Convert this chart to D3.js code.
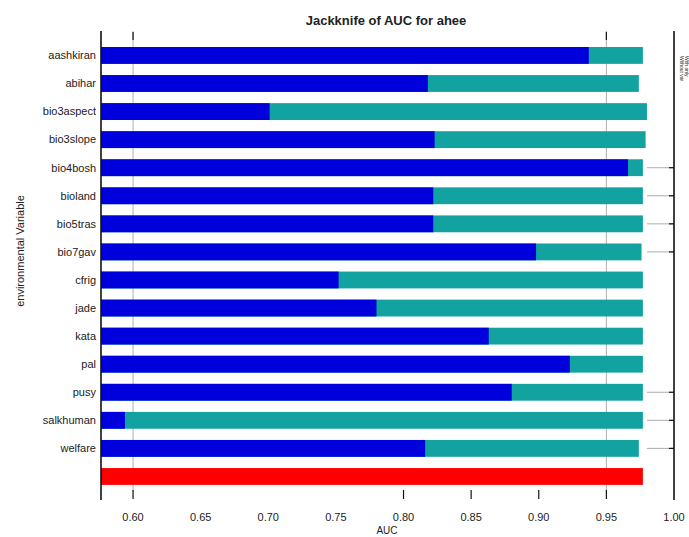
<!DOCTYPE html>
<html>
<head>
<meta charset="utf-8">
<script src="https://cdn.jsdelivr.net/npm/d3@7"></script>
<style>
  body { margin: 0; background: #fff; }
  text { font-family: "Liberation Sans", Arial, sans-serif; fill: #222; }
</style>
</head>
<body>
<svg id="chart1"></svg>
<script>
let w = 689;
let h = 537;
let svg;
let xScale, yScale;

// variables, top to bottom
let variables = ['aashkiran', 'abihar', 'bio3aspect', 'bio3slope', 'bio4bosh', 'bioland', 'bio5tras',
  'bio7gav', 'cfrig', 'jade', 'kata', 'pal', 'pusy', 'salkhuman', 'welfare'];
// AUC without the variable (teal)
let withoutVar = [0.977, 0.974, 0.980, 0.979, 0.977, 0.977, 0.977,
  0.976, 0.977, 0.977, 0.977, 0.977, 0.977, 0.977, 0.974];
// AUC with only the variable (blue)
let onlyVar = [0.937, 0.818, 0.701, 0.823, 0.966, 0.822, 0.822,
  0.898, 0.752, 0.780, 0.863, 0.923, 0.880, 0.594, 0.816];
// AUC with all variables (red)
let allVars = 0.977;

let tickValues = [0.60, 0.65, 0.70, 0.75, 0.80, 0.85, 0.90, 0.95, 1.00];
let tickMarks = [0.60, 0.80, 0.85, 0.90, 0.95];
let gridValues = [0.60, 0.95];
let rightTickRows = ['bio4bosh', 'bioland', 'bio5tras', 'bio7gav', 'pusy', 'salkhuman', 'welfare'];
let legendLabels = ['Without var', 'With only'];

function initGraph() {
  let rows = variables.concat(['all']);

  svg = d3.select('#chart1')
    .attr('width', w)
    .attr('height', h);

  xScale = d3.scaleLinear()
    .domain([0.5763, 1.0])
    .range([101, 674]);

  yScale = d3.scaleBand()
    .domain(rows)
    .range([41.4, 490.5])
    .paddingInner(0.4)
    .paddingOuter(0.2);

  // grid lines
  svg.selectAll('.grid')
    .data(gridValues)
    .enter()
    .append('line')
    .attr('x1', d => xScale(d))
    .attr('x2', d => xScale(d))
    .attr('y1', 31)
    .attr('y2', 492)
    .attr('stroke', '#999')
    .attr('stroke-width', 0.8);

  svg.selectAll('.toptick')
    .data(gridValues)
    .enter()
    .append('line')
    .attr('x1', d => xScale(d))
    .attr('x2', d => xScale(d))
    .attr('y1', 32)
    .attr('y2', 40)
    .attr('stroke', '#111')
    .attr('stroke-width', 1.2);

  // faint lines to the right axis
  svg.selectAll('.rline')
    .data(rightTickRows)
    .enter()
    .append('line')
    .attr('x1', xScale(0.98))
    .attr('x2', xScale(1.0))
    .attr('y1', d => yScale(d) + yScale.bandwidth() / 2)
    .attr('y2', d => yScale(d) + yScale.bandwidth() / 2)
    .attr('stroke', '#888')
    .attr('stroke-width', 0.7);

  svg.selectAll('.rtick')
    .data(rightTickRows)
    .enter()
    .append('line')
    .attr('x1', xScale(1.0) - 5)
    .attr('x2', xScale(1.0))
    .attr('y1', d => yScale(d) + yScale.bandwidth() / 2)
    .attr('y2', d => yScale(d) + yScale.bandwidth() / 2)
    .attr('stroke', '#111')
    .attr('stroke-width', 1.2);

  // teal bars (without variable)
  svg.selectAll('.without')
    .data(variables)
    .enter()
    .append('rect')
    .attr('x', xScale.range()[0])
    .attr('y', d => yScale(d))
    .attr('width', (d, i) => xScale(withoutVar[i]) - xScale.range()[0])
    .attr('height', yScale.bandwidth())
    .attr('fill', '#12a3a1');

  // blue bars (only variable)
  svg.selectAll('.only')
    .data(variables)
    .enter()
    .append('rect')
    .attr('x', xScale.range()[0])
    .attr('y', d => yScale(d))
    .attr('width', (d, i) => xScale(onlyVar[i]) - xScale.range()[0])
    .attr('height', yScale.bandwidth())
    .attr('fill', '#0000dd');

  // red bar (all variables)
  svg.append('rect')
    .attr('x', xScale.range()[0])
    .attr('y', yScale('all'))
    .attr('width', xScale(allVars) - xScale.range()[0])
    .attr('height', yScale.bandwidth())
    .attr('fill', '#ff0000');

  // left and right frame lines
  svg.selectAll('.frame')
    .data([xScale.range()[0], xScale.range()[1]])
    .enter()
    .append('line')
    .attr('x1', d => d)
    .attr('x2', d => d)
    .attr('y1', 31)
    .attr('y2', 500)
    .attr('stroke', '#111')
    .attr('stroke-width', 1.6);

  // category labels
  svg.selectAll('.ylab')
    .data(variables)
    .enter()
    .append('text')
    .attr('x', 96)
    .attr('y', d => yScale(d) + yScale.bandwidth() / 2)
    .attr('dy', '0.35em')
    .attr('text-anchor', 'end')
    .attr('font-size', 11)
    .attr('fill', '#333')
    .text(d => d);

  // bottom ticks
  svg.selectAll('.btick')
    .data(tickMarks)
    .enter()
    .append('line')
    .attr('x1', d => xScale(d))
    .attr('x2', d => xScale(d))
    .attr('y1', 490)
    .attr('y2', 499)
    .attr('stroke', '#111')
    .attr('stroke-width', 1.2);

  svg.selectAll('.xlab')
    .data(tickValues)
    .enter()
    .append('text')
    .attr('x', d => xScale(d))
    .attr('y', 521)
    .attr('text-anchor', 'middle')
    .attr('font-size', 11)
    .attr('fill', '#333')
    .text(d => d.toFixed(2));

  svg.append('text')
    .attr('x', 387)
    .attr('y', 534)
    .attr('text-anchor', 'middle')
    .attr('font-size', 10)
    .attr('fill', '#333')
    .text('AUC');

  svg.append('text')
    .attr('transform', 'translate(24,251) rotate(-90)')
    .attr('text-anchor', 'middle')
    .attr('font-size', 11)
    .attr('fill', '#333')
    .text('environmental Variable');

  svg.append('text')
    .attr('x', 386)
    .attr('y', 25)
    .attr('text-anchor', 'middle')
    .attr('font-size', 13)
    .attr('font-weight', 'bold')
    .text('Jackknife of AUC for ahee');

  // legend squeezed into the narrow right margin
  svg.selectAll('.leg')
    .data(legendLabels)
    .enter()
    .append('text')
    .attr('transform', (d, i) => `translate(${680 + i * 5},56) rotate(90)`)
    .attr('font-size', 5)
    .attr('fill', '#333')
    .text(d => d);
}

window.onload = initGraph;
</script>
</body>
</html>
